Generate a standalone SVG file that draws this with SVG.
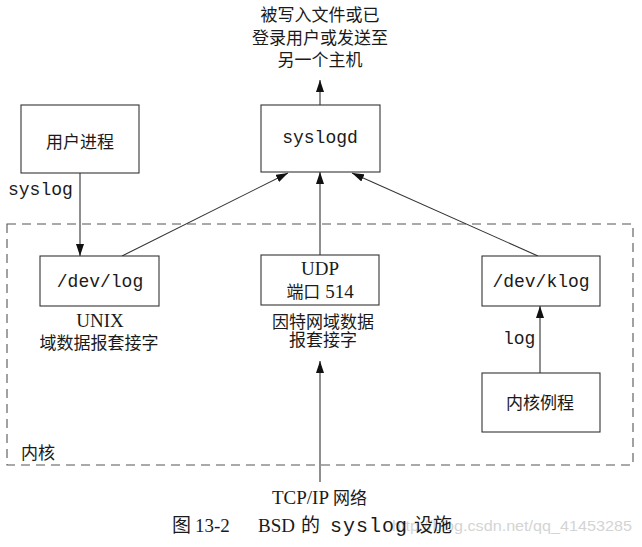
<svg xmlns="http://www.w3.org/2000/svg" width="642" height="547" viewBox="0 0 642 547">
<style>
.box{fill:#fff;stroke:#333;stroke-width:1.1}
.ln{stroke:#333;stroke-width:1.1;fill:none}
.cjk{font-family:"Liberation Serif","Noto Sans CJK SC",serif;font-size:17px;fill:#1a1a1a}
.ser{font-family:"Liberation Serif","Noto Sans CJK SC",serif;font-size:19px;fill:#1a1a1a}
.mono{font-family:"Liberation Mono","Noto Sans CJK SC",monospace;font-size:18px;fill:#1a1a1a}
.mid{text-anchor:middle}
.wm{font-family:"Liberation Sans",sans-serif;font-size:15px;fill:#d4d4d4}
</style>
<defs>
<marker id="ah" viewBox="0 0 12 8" refX="12" refY="4" markerWidth="12" markerHeight="8" markerUnits="userSpaceOnUse" orient="auto">
<path d="M0,0 L12,4 L0,8 Z" fill="#111"/>
</marker>
</defs>
<rect width="642" height="547" fill="#fff"/>

<g id="kernel">
<rect x="7" y="224" width="626" height="241" fill="none" stroke="#555" stroke-width="1.1" stroke-dasharray="9,6"/>
<text class="cjk" x="21" y="459">内核</text>
</g>

<g id="output-label">
<text class="cjk mid" x="320" y="21">被写入文件或已</text>
<text class="cjk mid" x="320" y="44">登录用户或发送至</text>
<text class="cjk mid" x="320" y="66">另一个主机</text>
</g>

<g id="connectors">
<line class="ln" x1="320" y1="105" x2="320" y2="80" marker-end="url(#ah)"/>
<line class="ln" x1="80" y1="173" x2="80" y2="256" marker-end="url(#ah)"/>
<line class="ln" x1="122" y1="256" x2="288" y2="173" marker-end="url(#ah)"/>
<line class="ln" x1="320" y1="255" x2="320" y2="172" marker-end="url(#ah)"/>
<line class="ln" x1="538" y1="256" x2="352" y2="173" marker-end="url(#ah)"/>
<line class="ln" x1="540" y1="373" x2="540" y2="306" marker-end="url(#ah)"/>
<line class="ln" x1="320" y1="482" x2="320" y2="361" marker-end="url(#ah)"/>
<text class="mono" x="8" y="195">syslog</text>
<text class="mono" x="503" y="344">log</text>
</g>

<g id="user-process">
<rect class="box" x="21" y="105" width="118" height="68"/>
<text class="cjk mid" x="80" y="148">用户进程</text>
</g>

<g id="syslogd">
<rect class="box" x="261" y="105" width="119" height="67"/>
<text class="mono mid" x="320" y="143">syslogd</text>
</g>

<g id="dev-log">
<rect class="box" x="40" y="256" width="119" height="50"/>
<text class="mono mid" x="100" y="287">/dev/log</text>
<text class="ser mid" x="100" y="327">UNIX</text>
<text class="cjk mid" x="99" y="349">域数据报套接字</text>
</g>

<g id="udp">
<rect class="box" x="261" y="255" width="118" height="50"/>
<text class="ser mid" x="320" y="275">UDP</text>
<text class="ser mid" x="320" y="298"><tspan font-size="17">端口</tspan> 514</text>
<text class="cjk mid" x="323" y="328">因特网域数据</text>
<text class="cjk mid" x="323" y="346">报套接字</text>
</g>

<g id="dev-klog">
<rect class="box" x="482" y="256" width="118" height="50"/>
<text class="mono mid" x="541" y="287">/dev/klog</text>
</g>

<g id="kernel-routine">
<rect class="box" x="482" y="373" width="118" height="59"/>
<text class="cjk mid" x="540" y="409">内核例程</text>
</g>

<g id="network">
<text class="ser" x="272" y="504">TCP/IP <tspan font-size="17">网络</tspan></text>
</g>

<g id="caption">
<text class="wm" x="392" y="531" textLength="240" lengthAdjust="spacingAndGlyphs">http://blog.csdn.net/qq_41453285</text>
<text class="ser" y="532" font-size="20"><tspan x="172" font-size="19">图</tspan><tspan x="195">13-2</tspan><tspan x="258">BSD</tspan><tspan x="301" font-size="19">的</tspan><tspan x="330" font-family="Liberation Mono" font-size="20" textLength="77">syslog</tspan><tspan x="414" font-size="19">设施</tspan></text>
</g>
</svg>
